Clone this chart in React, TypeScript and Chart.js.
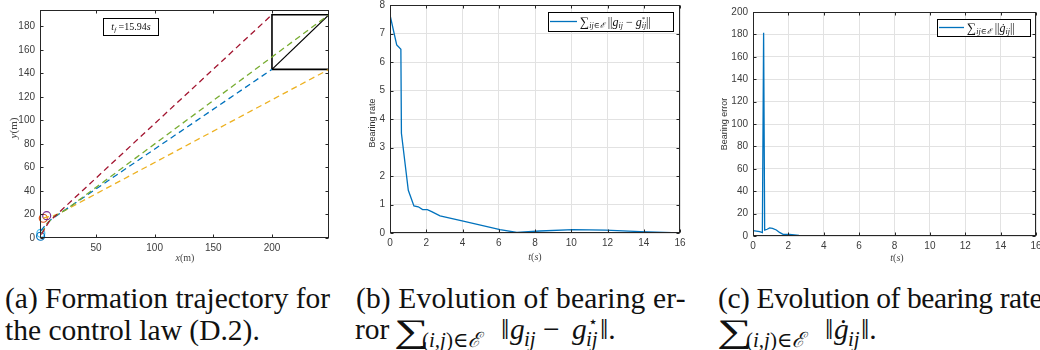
import React, { useEffect, useRef } from "react";
import { Chart, registerables } from "chart.js";
Chart.register(...registerables);

// ---------- Panel (a): formation trajectory ----------
const xTicksA = [50, 100, 150, 200];
const yTicksA = [0, 20, 40, 60, 80, 100, 120, 140, 160, 180];
const redX = [3.5, 7, 10, 15, 200];
const redY = [3, 9, 14, 18.5, 190];
const greenX = [4, 8, 14, 25, 248.6];
const greenY = [4, 12, 18, 24.5, 190];
const blueX = [3, 7, 12, 18, 200];
const blueY = [6, 11, 16, 20, 143.5];
const yellowX = [5, 9, 14, 18, 248.6];
const yellowY = [17, 18, 19, 20.5, 143.5];
const boxX = [200, 248.6, 248.6, 200, 200];
const boxY = [143.5, 143.5, 190, 190, 143.5];
const diagX = [200, 248.6];
const diagY = [143.5, 190];
const startX = [3, 2.8, 5.1, 8];
const startY = [4, 1.5, 16.8, 19];
const startColors = ["#4DBEEE", "#0072BD", "#D95319", "#7E2F8E"];

// ---------- Panel (b): bearing error ----------
const tTicks = [0, 2, 4, 6, 8, 10, 12, 14, 16];
const yTicksB = [0, 1, 2, 3, 4, 5, 6, 7, 8];
const errT = [0, 0.37, 0.55, 0.6, 0.63, 1.01, 1.32, 1.56, 1.8, 2.06, 2.3, 2.76, 4.04, 6.07, 7.0, 8.27, 10.1, 11.9, 13.8, 16];
const errV = [7.65, 6.6, 6.48, 6.45, 3.5, 1.5, 0.95, 0.92, 0.82, 0.82, 0.75, 0.6, 0.42, 0.12, 0.02, 0.07, 0.12, 0.1, 0.05, 0.0];

// ---------- Panel (c): bearing rate ----------
const yTicksC = [0, 20, 40, 60, 80, 100, 120, 140, 160, 180, 200];
const rateT = [0, 0.38, 0.53, 0.6, 0.62, 0.66, 0.8, 0.94, 1.1, 1.32, 1.5, 1.7, 2.07, 2.6, 3.0, 4, 8, 16];
const rateV = [4.8, 3.9, 3, 181.5, 181.5, 5.2, 6, 7.2, 6.8, 5.4, 3.2, 1.5, 1.5, 0.6, 0.2, 0.05, 0.02, 0.02];

const SERIF = '"Liberation Serif", "DejaVu Serif", serif';
const SANS = '"Liberation Sans", Arial, sans-serif';
const AX = "#262626";

type Seg = { t: string; size: number; italic?: boolean; dy?: number; stack?: boolean; fam?: string };
const fontOf = (s: Seg) => `${s.italic ? "italic " : ""}${s.size}px ${s.fam || SERIF}`;
function richWidth(ctx: CanvasRenderingContext2D, segs: Seg[]) {
  let w = 0;
  for (const s of segs) {
    if (s.stack) continue;
    ctx.font = fontOf(s);
    w += ctx.measureText(s.t).width;
  }
  return w;
}
function drawRich(ctx: CanvasRenderingContext2D, x: number, y: number, segs: Seg[], align = "left") {
  ctx.textBaseline = "alphabetic";
  ctx.textAlign = "left";
  let cx = align === "center" ? x - richWidth(ctx, segs) / 2 : x;
  for (const s of segs) {
    ctx.font = fontOf(s);
    ctx.fillText(s.t, cx, y + (s.dy || 0));
    if (!s.stack) cx += ctx.measureText(s.t).width;
  }
}

const pts = (xs: number[], ys: number[]) => xs.map((x, i) => ({ x, y: ys[i] }));

function linScale(min: number, max: number, ticks: number[], size: number, horizontal: boolean, grid: boolean) {
  return {
    type: "linear",
    min,
    max,
    afterBuildTicks: (s: any) => {
      s.ticks = ticks.map((v) => ({ value: v }));
    },
    afterFit: (s: any) => {
      if (horizontal) s.height = size;
      else s.width = size;
      s.paddingLeft = 0;
      s.paddingRight = 0;
      s.paddingTop = 0;
      s.paddingBottom = 0;
    },
    grid: { display: grid, color: "#e2e2e2", drawTicks: false, lineWidth: 1 },
    border: { display: false },
    ticks: {
      font: { family: SANS, size: 10 },
      color: "#3c3c3c",
      padding: horizontal ? 4 : 5,
      maxRotation: 0,
      autoSkip: false,
    },
  } as any;
}

function decor(extra: (ctx: CanvasRenderingContext2D, chart: any) => void) {
  return {
    id: "decor",
    afterDraw(chart: any) {
      const { ctx, chartArea: a, scales } = chart;
      ctx.save();
      ctx.strokeStyle = AX;
      ctx.lineWidth = 1;
      const L = Math.round(a.left) + 0.5, R = Math.round(a.right) - 0.5;
      const T = Math.round(a.top) + 0.5, B = Math.round(a.bottom) - 0.5;
      ctx.strokeRect(L, T, R - L, B - T);
      ctx.beginPath();
      const tl = 3;
      for (const t of scales.x.ticks) {
        const px = Math.round(scales.x.getPixelForValue(t.value)) + 0.5;
        ctx.moveTo(px, B); ctx.lineTo(px, B - tl);
        ctx.moveTo(px, T); ctx.lineTo(px, T + tl);
      }
      for (const t of scales.y.ticks) {
        const py = Math.round(scales.y.getPixelForValue(t.value)) + 0.5;
        ctx.moveTo(L, py); ctx.lineTo(L + tl, py);
        ctx.moveTo(R, py); ctx.lineTo(R - tl, py);
      }
      ctx.stroke();
      ctx.fillStyle = "#333";
      extra(ctx, chart);
      ctx.restore();
    },
  };
}

function rotText(ctx: CanvasRenderingContext2D, text: string, x: number, y: number, font: string) {
  ctx.save();
  ctx.translate(x, y);
  ctx.rotate(-Math.PI / 2);
  ctx.font = font;
  ctx.textAlign = "center";
  ctx.textBaseline = "middle";
  ctx.fillText(text, 0, 0);
  ctx.restore();
}

function makeA(canvas: HTMLCanvasElement) {
  const dash = (xs: number[], ys: number[], color: string) => ({
    data: pts(xs, ys),
    showLine: true,
    borderColor: color,
    borderWidth: 1.3,
    borderDash: [6, 4],
    pointRadius: 0,
    fill: false,
  });
  return new Chart(canvas, {
    type: "scatter",
    data: {
      datasets: [
        dash(redX, redY, "#A2142F"),
        dash(greenX, greenY, "#77AC30"),
        dash(blueX, blueY, "#0072BD"),
        dash(yellowX, yellowY, "#EDB120"),
        { data: pts(boxX, boxY), showLine: true, borderColor: "#000", borderWidth: 1.6, pointRadius: 0 },
        { data: pts(diagX, diagY), showLine: true, borderColor: "#000", borderWidth: 1.2, pointRadius: 0 },
        {
          data: pts(startX, startY),
          showLine: false,
          pointRadius: 4,
          pointBorderWidth: 1.2,
          pointBorderColor: startColors,
          pointBackgroundColor: "rgba(0,0,0,0)",
          clip: false,
        },
      ] as any,
    },
    options: {
      animation: false,
      responsive: false,
      events: [],
      layout: { padding: { left: 0, right: 11, top: 10, bottom: 0 } },
      plugins: { legend: { display: false }, tooltip: { enabled: false } },
      scales: {
        x: linScale(2.3, 248.6, xTicksA, 32, true, false),
        y: linScale(0, 194, yTicksA, 40, false, false),
      },
    } as any,
    plugins: [
      decor((ctx) => {
        ctx.fillStyle = "#444";
        ctx.save();
        ctx.translate(13, 128);
        ctx.rotate(-Math.PI / 2);
        drawRich(ctx, 0, 4, [
          { t: "y", size: 11, italic: true },
          { t: "(m)", size: 11 },
        ], "center");
        ctx.restore();
        drawRich(ctx, 185, 261, [
          { t: "x", size: 10, italic: true },
          { t: "(m)", size: 10 },
        ], "center");
        ctx.fillStyle = "#fff";
        ctx.fillRect(103, 18, 55, 17);
        ctx.strokeStyle = "#000";
        ctx.lineWidth = 1;
        ctx.strokeRect(103.5, 18.5, 55, 17);
        ctx.fillStyle = "#111";
        drawRich(ctx, 131, 30, [
          { t: "t", size: 10, italic: true },
          { t: "f", size: 7, italic: true, dy: 2 },
          { t: " =15.94", size: 10 },
          { t: "s", size: 10, italic: true },
        ], "center");
      }),
    ],
  });
}

function makeB(canvas: HTMLCanvasElement) {
  return new Chart(canvas, {
    type: "scatter",
    data: {
      datasets: [
        { data: pts(errT, errV), showLine: true, borderColor: "#0072BD", borderWidth: 1.3, pointRadius: 0 },
      ] as any,
    },
    options: {
      animation: false,
      responsive: false,
      events: [],
      layout: { padding: { left: 0, right: 10, top: 5, bottom: 0 } },
      plugins: { legend: { display: false }, tooltip: { enabled: false } },
      scales: {
        x: linScale(0, 16, tTicks, 37, true, true),
        y: linScale(0, 8, yTicksB, 50, false, true),
      },
    } as any,
    plugins: [
      decor((ctx) => {
        ctx.fillStyle = "#333";
        rotText(ctx, "Bearing rate", 33, 123, `9px ${SANS}`);
        ctx.fillStyle = "#444";
        drawRich(ctx, 195, 260, [
          { t: "t", size: 10, italic: true },
          { t: "(", size: 10 },
          { t: "s", size: 10, italic: true },
          { t: ")", size: 10 },
        ], "center");
        // legend
        ctx.fillStyle = "#fff";
        ctx.fillRect(208, 12, 125, 19);
        ctx.strokeStyle = "#000";
        ctx.lineWidth = 1;
        ctx.strokeRect(208.5, 12.5, 125, 19);
        ctx.strokeStyle = "#0072BD";
        ctx.lineWidth = 1.3;
        ctx.beginPath();
        ctx.moveTo(210, 21.5);
        ctx.lineTo(237, 21.5);
        ctx.stroke();
        ctx.fillStyle = "#111";
        drawRich(ctx, 240, 26, [
          { t: "∑", size: 13 },
          { t: "ij∈ℰ", size: 8, italic: true, dy: 2 },
          { t: " ||", size: 12 },
          { t: "g", size: 12, italic: true },
          { t: "ij", size: 8, italic: true, dy: 2 },
          { t: " − ", size: 12 },
          { t: "g", size: 12, italic: true },
          { t: "*", size: 7, dy: -5, stack: true },
          { t: "ij", size: 8, italic: true, dy: 2 },
          { t: "||", size: 12 },
        ]);
      }),
    ],
  });
}

function makeC(canvas: HTMLCanvasElement) {
  return new Chart(canvas, {
    type: "scatter",
    data: {
      datasets: [
        { data: pts(rateT, rateV), showLine: true, borderColor: "#0072BD", borderWidth: 1.3, pointRadius: 0 },
      ] as any,
    },
    options: {
      animation: false,
      responsive: false,
      events: [],
      layout: { padding: { left: 0, right: 14, top: 12, bottom: 0 } },
      plugins: { legend: { display: false }, tooltip: { enabled: false } },
      scales: {
        x: linScale(0, 16, tTicks, 34, true, true),
        y: linScale(0, 200, yTicksC, 63, false, true),
      },
    } as any,
    plugins: [
      decor((ctx) => {
        ctx.fillStyle = "#333";
        rotText(ctx, "Bearing error", 35, 124, `9px ${SANS}`);
        ctx.fillStyle = "#444";
        drawRich(ctx, 207, 261, [
          { t: "t", size: 10, italic: true },
          { t: "(", size: 10 },
          { t: "s", size: 10, italic: true },
          { t: ")", size: 10 },
        ], "center");
        ctx.fillStyle = "#fff";
        ctx.fillRect(247, 19, 93, 17);
        ctx.strokeStyle = "#000";
        ctx.lineWidth = 1;
        ctx.strokeRect(247.5, 19.5, 93, 17);
        ctx.strokeStyle = "#0072BD";
        ctx.lineWidth = 1.3;
        ctx.beginPath();
        ctx.moveTo(249, 27.5);
        ctx.lineTo(274, 27.5);
        ctx.stroke();
        ctx.fillStyle = "#111";
        drawRich(ctx, 277, 32, [
          { t: "∑", size: 13 },
          { t: "ij∈ℰ", size: 8, italic: true, dy: 2 },
          { t: " ||", size: 12 },
          { t: "ġ", size: 12, italic: true },
          { t: "ij", size: 8, italic: true, dy: 2 },
          { t: "||", size: 12 },
        ]);
      }),
    ],
  });
}

// Caption helpers: absolutely placed text pieces positioned by baseline
const CAP = 29.5;
function T(props: { x: number; b: number; size?: number; italic?: boolean; sx?: number; children: React.ReactNode }) {
  const size = props.size || CAP;
  return (
    <span
      style={{
        position: "absolute",
        left: props.x,
        top: props.b - 0.8375 * size,
        fontFamily: SERIF,
        fontSize: size,
        lineHeight: `${size}px`,
        fontStyle: props.italic ? "italic" : "normal",
        whiteSpace: "nowrap",
        color: "#111",
        transform: props.sx ? `scaleX(${props.sx})` : undefined,
        transformOrigin: "left",
      }}
    >
      {props.children}
    </span>
  );
}

const capStyle: React.CSSProperties = {
  position: "absolute",
  fontFamily: SERIF,
  fontSize: CAP,
  lineHeight: "32px",
  whiteSpace: "nowrap",
  color: "#111",
};

export default function App() {
  const refA = useRef<HTMLCanvasElement>(null);
  const refB = useRef<HTMLCanvasElement>(null);
  const refC = useRef<HTMLCanvasElement>(null);
  useEffect(() => {
    const charts = [makeA(refA.current!), makeB(refB.current!), makeC(refC.current!)];
    return () => charts.forEach((c) => c.destroy());
  }, []);
  const B2 = 340;
  return (
    <div style={{ position: "fixed", left: 0, top: 0, width: 1040, height: 350, overflow: "hidden", background: "#fff" }}>
      <canvas ref={refA} width={340} height={270} style={{ position: "absolute", left: 0, top: 0, width: 340, height: 270 }} />
      <canvas ref={refB} width={350} height={270} style={{ position: "absolute", left: 340, top: 0, width: 350, height: 270 }} />
      <canvas ref={refC} width={360} height={270} style={{ position: "absolute", left: 690, top: 0, width: 360, height: 270 }} />
      <div style={{ ...capStyle, left: 5, top: 282 }}>
        (a) Formation trajectory for
        <br />
        the control law (D.2).
      </div>
      <div style={{ ...capStyle, left: 356, top: 282, letterSpacing: "0.15px" }}>(b) Evolution of bearing er-</div>
      <T x={355} b={B2}>ror</T>
      <T x={394} b={B2 + 3} size={33} sx={1.5}>∑</T>
      <T x={422} b={B2 + 8} size={21}>(<i>i,j</i>)∈<i>ℰ</i></T>
      <T x={501} b={B2}>‖</T>
      <T x={510} b={B2} italic>g</T>
      <T x={524} b={B2 + 7} size={21} italic>ij</T>
      <T x={543} b={B2}>−</T>
      <T x={572} b={B2} italic>g</T>
      <T x={588} b={B2 - 13} size={16}>⋆</T>
      <T x={586} b={B2 + 7} size={21} italic>ij</T>
      <T x={600} b={B2}>‖.</T>
      <div style={{ ...capStyle, left: 718, top: 282, letterSpacing: "-0.4px" }}>(c) Evolution of bearing rate</div>
      <T x={717} b={B2 + 3} size={33} sx={1.5}>∑</T>
      <T x={746} b={B2 + 8} size={21}>(<i>i,j</i>)∈<i>ℰ</i></T>
      <T x={825} b={B2}>‖</T>
      <T x={834} b={B2} italic>ġ</T>
      <T x={848} b={B2 + 7} size={21} italic>ij</T>
      <T x={861} b={B2}>‖.</T>
    </div>
  );
}
